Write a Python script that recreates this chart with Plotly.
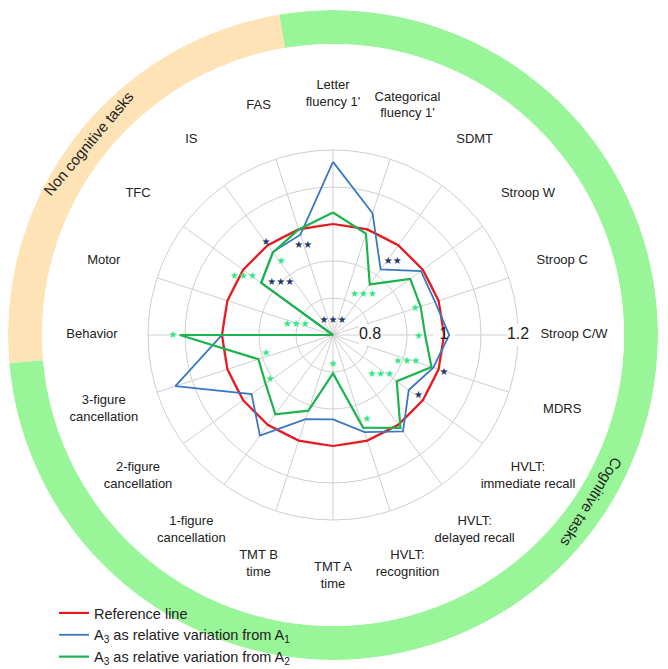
import plotly.graph_objects as go

categories = ["Letter<br>fluency 1'", "Categorical<br>fluency 1'", "SDMT", "Stroop W", "Stroop C",
              "Stroop C/W", "MDRS", "HVLT:<br>immediate recall", "HVLT:<br>delayed recall",
              "HVLT:<br>recognition", "TMT A<br>time", "TMT B<br>time", "1-figure<br>cancellation",
              "2-figure<br>cancellation", "3-figure<br>cancellation", "Behavior", "Motor", "TFC", "IS", "FAS"]
angles = [0, 18, 36, 54, 72, 90, 108, 126, 144, 162, 180, 198, 216, 234, 252, 270, 288, 306, 324, 342]

reference = [1.0, 1.0, 1.0, 1.0, 1.0, 1.0, 1.0, 1.0, 1.0, 1.0,
             1.0, 1.0, 1.0, 1.0, 1.0, 1.0, 1.0, 1.0, 1.0, 1.0]
from_a1 = [1.168, 1.046, 0.919, 0.994, 0.99, 1.014, 0.985, 0.953, 1.022, 0.976,
           0.928, 0.939, 1.036, 0.972, 1.148, 1.0, 0.70, 0.94, 0.977, 0.985]
from_a2 = [1.031, 0.988, 0.869, 0.958, 0.949, 0.949, 0.98, 0.913, 1.01, 0.963,
           0.804, 0.915, 0.965, 0.925, 0.912, 1.114, 0.70, 0.94, 0.976, 1.0]

# significance stars (value, angle, text)
stars_a1_r = [1.008, 0.954, 0.90, 0.739, 0.957, 1.017, 0.982]
stars_a1_theta = [324, 341.5, 315, 0, 38.9, 108.8, 125.1]
stars_a1_text = ["★", "★★", "★★★", "★★★", "★★", "★", "★"]

stars_a2_r = [0.944, 0.990, 0.804, 1.133, 0.836, 0.933, 0.931, 0.912, 0.868, 0.947, 0.781, 0.909, 0.888]
stars_a2_theta = [324.9, 303.3, 286.6, 270, 37.1, 72, 90.7, 109.9, 130, 158.4, 180, 234.5, 254.2]
stars_a2_text = ["★", "★★★", "★★★", "★", "★★★", "★", "★", "★★★", "★★★", "★", "★", "★", "★"]

radial_ticks = [0.8, 1.0, 1.2]
radial_labels = ["0.8", "1", "1.2"]

groups = ["Non cognitive tasks", "Cognitive tasks"]
group_centers = [307.75, 127.75]
group_widths = [85.5, 274.5]
group_colors = ["#FDE3B6", "#98F598"]

RED = "#E8191E"
BLUE = "#3A78C2"
GREEN = "#1DB44F"
FONT = "Liberation Sans, Arial, sans-serif"

W, H = 668, 669
# page body adds 8px, so the layout is laid out 8px up/left
CX, CY = 325, 327
R_GRID = 185
R_LABELS = 260
R_RING = 325
LABEL_R = 241 / R_LABELS  # category names sit outside the grid


def domain(radius):
    return dict(x=[(CX - radius) / W, (CX + radius) / W],
                y=[1 - (CY + radius) / H, 1 - (CY - radius) / H])


fig = go.Figure()

# outer ring with the task groups
fig.add_trace(go.Barpolar(r=[1, 1], theta=group_centers, width=group_widths,
                          marker=dict(color=group_colors, line=dict(width=0)),
                          showlegend=False, hoverinfo="skip", subplot="polar2"))

# category names on their own invisible polar
fig.add_trace(go.Scatterpolar(r=[LABEL_R] * len(categories), theta=angles, text=categories,
                              mode="text", textposition="middle center",
                              textfont=dict(size=13, color="#222222", family=FONT),
                              cliponaxis=False, showlegend=False, hoverinfo="skip",
                              subplot="polar3"))

# white patches behind the radial tick labels (hide the spoke)
fig.add_trace(go.Scatterpolar(r=radial_ticks, theta=[90, 90, 90], mode="markers",
                              marker=dict(symbol="square", size=22, color="white"),
                              cliponaxis=False, showlegend=False, hoverinfo="skip"))

fig.add_trace(go.Scatterpolar(r=reference + reference[:1], theta=angles + angles[:1],
                              mode="lines", line=dict(color=RED, width=2.2),
                              name="Reference line"))
fig.add_trace(go.Scatterpolar(r=from_a1 + from_a1[:1], theta=angles + angles[:1],
                              mode="lines", line=dict(color=BLUE, width=1.8),
                              name="A<sub>3</sub> as relative variation from A<sub>1</sub>"))
fig.add_trace(go.Scatterpolar(r=from_a2 + from_a2[:1], theta=angles + angles[:1],
                              mode="lines", line=dict(color=GREEN, width=2.2),
                              name="A<sub>3</sub> as relative variation from A<sub>2</sub>"))

fig.add_trace(go.Scatterpolar(r=radial_ticks, theta=[90, 90, 90], text=radial_labels,
                              mode="text", textposition="middle center",
                              textfont=dict(size=16, color="#222222", family=FONT),
                              cliponaxis=False, showlegend=False, hoverinfo="skip"))

fig.add_trace(go.Scatterpolar(r=stars_a1_r, theta=stars_a1_theta, text=stars_a1_text,
                              mode="text", textfont=dict(size=10, color="#22386A", family="DejaVu Sans"),
                              cliponaxis=False, showlegend=False, hoverinfo="skip"))
fig.add_trace(go.Scatterpolar(r=stars_a2_r, theta=stars_a2_theta, text=stars_a2_text,
                              mode="text", textfont=dict(size=10, color="#2EE886", family="DejaVu Sans"),
                              cliponaxis=False, showlegend=False, hoverinfo="skip"))

hidden_polar = dict(
    bgcolor="rgba(0,0,0,0)",
    radialaxis=dict(range=[0, 1], visible=False),
    angularaxis=dict(rotation=90, direction="clockwise", visible=False),
)

fig.update_layout(
    width=W, height=H,
    margin=dict(l=0, r=0, t=0, b=0),
    paper_bgcolor="white",
    font=dict(family=FONT, color="#222222"),
    polar=dict(
        domain=domain(R_GRID),
        bgcolor="rgba(0,0,0,0)",
        gridshape="circular",
        radialaxis=dict(range=[0.7, 1.2], tickvals=[0.8, 0.9, 1.0, 1.1, 1.2],
                        showticklabels=False, ticks="", showline=False,
                        gridcolor="#CFCFCF", gridwidth=1, layer="below traces"),
        angularaxis=dict(type="linear", rotation=90, direction="clockwise",
                         tickmode="array", tickvals=angles, showticklabels=False, ticks="",
                         showline=True, linecolor="#CFCFCF", linewidth=1,
                         gridcolor="#CFCFCF", gridwidth=1, layer="below traces"),
    ),
    polar2=dict(domain=domain(R_RING), hole=291 / R_RING, **hidden_polar),
    polar3=dict(domain=domain(R_LABELS), **hidden_polar),
    legend=dict(x=46 / W, y=1 - 589 / H, xanchor="left", yanchor="top",
                font=dict(size=14.5, color="#222222", family=FONT),
                bgcolor="rgba(0,0,0,0)", tracegroupgap=0),
    annotations=[
        dict(text=groups[0], x=80 / W, y=1 - 135 / H, xref="paper", yref="paper",
             xanchor="center", yanchor="middle",
             showarrow=False, textangle=-50, font=dict(size=15, color="#222222", family=FONT)),
        dict(text=groups[1], x=583 / W, y=1 - 494 / H, xref="paper", yref="paper",
             xanchor="center", yanchor="middle",
             showarrow=False, textangle=122, font=dict(size=15, color="#222222", family=FONT)),
    ],
)

fig.write_html("out.html")
